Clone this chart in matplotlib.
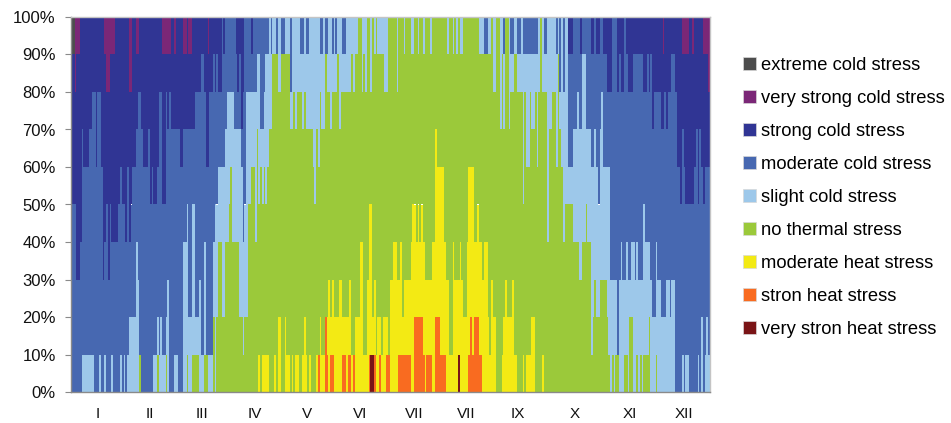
import numpy as np
import matplotlib
matplotlib.use("Agg")
import matplotlib.pyplot as plt
from matplotlib.patches import Patch

plt.rcParams['font.family'] = ['Liberation Sans', 'DejaVu Sans']

# Bottom-to-top stacking order
codes = ["R", "O", "H", "N", "L", "M", "S", "V", "E"]
names = ["very stron heat stress", "stron heat stress", "moderate heat stress",
         "no thermal stress", "slight cold stress", "moderate cold stress",
         "strong cold stress", "very strong cold stress", "extreme cold stress"]
colors = ["#7a1416", "#f96b20", "#f3ea14", "#9bc93a", "#9dc8ea",
          "#4768b1", "#303594", "#7b2777", "#4d4d4d"]
months = ["I", "II", "III", "IV", "V", "VI", "VII", "VII", "IX", "X", "XI", "XII"]
month_days = [15, 45, 75, 105, 135, 165, 196, 226, 255, 288, 319, 350]
pct_labels = [f"{v}%" for v in range(0, 101, 10)]

# Each decile of the yearly distribution: class letter + last day of that run
d00 = "M6 L13 M16 L17 M19 L20 M30 L31 M32 L39 N40 M47 L49 N50 L54 N55 L56 M59 L61 M64 L66 N67 L69 N73 L77 N78 L81 N82 L83 N107 H108 N109 H113 N116 H117 N118 H120 N122 H125 N126 H127 N128 H130 N132 H134 N136 H137 N140 H141 O142 H145 O146 H148 O150 H155 O157 H158 O160 H161 O162 H170 O171 R173 O174 H176 O177 H180 O182 H187 O194 H196 O201 H203 O206 H208 O214 H221 R222 H227 O235 H243 N246 H255 N258 H259 N260 H265 N269 H270 N306 L307 N308 L309 N310 L311 N313 L316 N318 L319 N321 L323 N324 L325 N326 L327 N329 L330 N331 L334 N335 L338 M339 L345 M349 L350 M351 L353 M358 L359 M360 L361 M363 L365"
d10 = "M23 L24 M28 L29 M33 L39 M49 L50 M51 L52 M54 L56 M64 L74 M76 N77 M81 N82 L83 N86 L88 N98 L99 N118 H120 N122 H123 N133 H135 N142 H143 N145 O147 H160 N162 H167 N169 H174 N176 H177 N178 H180 N182 H196 O201 H208 O211 H216 N218 H228 O229 H230 O233 H239 N240 H243 N247 H253 N263 H265 N297 L298 N307 L312 M313 L319 N321 L329 N331 L339 M340 L345 M360 L361 M362 L364 M365"
d20 = "M37 L38 M55 L56 M64 L67 M69 L71 M73 L74 M76 L77 M81 L84 N96 L101 N147 H148 N149 H150 N153 H155 N159 H160 N165 H167 N169 H172 N180 H181 N182 H189 N191 H201 O202 H216 N218 H224 N226 H238 N240 H241 N248 H249 N252 H253 N297 L299 N300 L302 N307 L312 M313 L316 M317 L322 M323 L332 M334 L337 M338 L342 M343 L345 M365"
d30 = "M3 S5 M18 S19 M21 S22 M31 S32 M37 L39 M64 L67 M69 L71 M76 L77 M81 L84 N86 L88 N96 L101 N107 L108 N165 H167 N170 H172 N173 H174 N175 H176 N184 H186 N188 H189 N190 H191 N194 H202 N206 H214 N218 H219 N222 H223 N226 H235 N236 H238 N272 L273 N290 L292 N294 L295 N297 L308 M314 L315 M320 L324 M327 L330 M334 L335 M365"
d40 = "S1 M3 S6 M18 S20 M21 S22 M23 S27 M33 S35 M49 S50 M52 S54 M66 L67 M69 L71 M82 L91 N92 L98 M99 L101 N105 L106 N107 L108 N170 H172 N196 H197 N198 H199 N200 H201 N208 H213 N227 H230 N232 H233 N272 L273 N281 L282 N285 L286 N287 L294 N295 L308 M316 L318 M327 L328 M330 L331 M348 S349 M365"
d50 = "M1 S6 M18 S28 M29 S32 M33 S34 M45 S46 M47 S49 M62 S64 M84 L90 N92 L98 M100 L103 N105 L106 N109 L110 N111 L112 N135 L137 N138 L140 N195 H196 N208 H213 N227 H230 N258 L259 N272 L273 N277 L278 N281 L285 N286 L294 N295 L301 M302 L308 M351 S356 M358 S359 M361 S363 M365"
d60 = "S6 M7 S10 M14 S37 M41 S44 M45 S49 M52 S54 M60 S63 M64 S66 M77 S79 M88 L97 S98 M100 L106 N108 L109 M110 L113 N135 L137 N138 L142 N208 H209 N258 L259 N260 L262 N266 L267 N272 L274 N277 L278 N280 L284 M287 L297 M299 L300 M302 L304 M346 S349 M350 S359 M360 S362 M363 S365"
d70 = "S13 M14 S15 M17 S39 M40 S51 M52 S54 M55 S56 M57 S60 M63 S64 M66 S71 M77 S79 M89 L93 M98 S99 M100 L108 M111 L115 N125 L127 N128 L129 N132 L135 N137 L138 N139 L140 N141 L142 N143 L145 N148 L150 N153 L154 N158 L160 N166 L167 N245 L246 N247 L248 N250 L251 N258 L259 N260 L262 N263 L265 N266 L267 N269 L277 N279 L284 M289 L290 M292 L294 M303 L304 M327 S329 M330 S331 M332 S335 M337 S339 M340 S341 M346 S357 M358 S365"
d80 = "S2 V3 S12 M13 S15 M17 S20 V22 S33 V35 S38 M39 S50 M51 S74 M76 S81 M82 S83 M84 S86 M95 S96 M97 S98 M106 L108 M109 L115 N118 L120 N125 M126 L133 N134 L135 N137 L145 N146 L149 N150 L152 N153 L158 N161 L162 N168 L169 N171 L172 N179 L181 N186 L187 N241 L243 N245 L246 N247 L248 N250 L253 N255 L268 N274 L275 N277 L278 N279 M280 L281 M282 L284 M292 L294 M306 S309 M312 S313 M314 S316 M318 S321 M332 S333 M335 S343 M345 S363 V365"
d90 = "E2 V5 S19 V25 S33 V35 S37 V39 S52 V57 S59 V60 S64 V66 S67 V69 S78 V79 S86 M87 S88 M94 S99 M103 S104 M113 L114 M115 L117 M118 L120 M122 L125 M126 L131 M133 L134 M136 L142 M144 L145 M147 L149 M150 L151 M152 L155 M157 L164 N166 L169 N171 L172 N173 L174 N175 L181 N186 L187 N190 L191 N194 L196 N198 L199 N201 L202 N205 L206 N215 L216 N218 L219 N220 L221 N222 L224 N233 L236 M238 L240 N241 L243 N245 L247 M248 N250 L251 M253 L255 M257 L258 M267 L268 N269 L270 M272 L277 M278 L279 M280 L281 M282 L284 S287 M291 S292 M297 S299 M300 S302 M304 S309 M312 S316 M317 S338 V339 S349 V353 S355 V356 S361 V363 S364 V365"
deciles = [d00, d10, d20, d30, d40, d50, d60, d70, d80, d90]


def add_decile(shares, text):
    start = 0
    for run in text.split():
        code, end = run[0], int(run[1:])
        shares[code][start:end] += 10
        start = end
    assert start == 365


shares = {c: np.zeros(365) for c in codes}
for text in deciles:
    add_decile(shares, text)

fig = plt.figure(figsize=(9.51, 4.23), dpi=100)
ax = fig.add_axes([71 / 951, 1 - 392 / 423, (710 - 71) / 951, (392 - 17) / 423])
days = np.arange(365) + 0.5
bottom = np.zeros(365)
for code, name, color in zip(codes, names, colors):
    ax.bar(days, shares[code], width=1.0, bottom=bottom, color=color,
           linewidth=0, antialiased=False, label=name)
    bottom += shares[code]

ax.set_xlim(0, 365)
ax.set_ylim(0, 100)
ax.set_yticks(np.arange(0, 101, 10))
ax.set_yticklabels(pct_labels, fontsize=12, color="#111111")
ax.set_xticks(month_days)
ax.set_xticklabels(months, fontsize=11, color="#111111")
ax.tick_params(axis="x", length=0, pad=11)
ax.tick_params(axis="y", length=4.5, width=0.8, color="#8a8a8a", pad=6.5)
for side in ("left", "bottom"):
    ax.spines[side].set_color("#8a8a8a")
    ax.spines[side].set_linewidth(1.0)
for side in ("top", "right"):
    ax.spines[side].set_color("#c4c4c4")
    ax.spines[side].set_linewidth(1.0)

handles = [Patch(facecolor=c, edgecolor="#d8d8d8", linewidth=0.5, label=n)
           for c, n in zip(colors[::-1], names[::-1])]
fig.legend(handles=handles, loc="upper left", bbox_to_anchor=(737 / 951, 1 - 51 / 423),
           frameon=False, fontsize=13.2, handlelength=0.72, handleheight=0.72,
           handletextpad=0.28, labelspacing=0.875, borderpad=0.3, borderaxespad=0)

fig.savefig("out.png", dpi=100)
